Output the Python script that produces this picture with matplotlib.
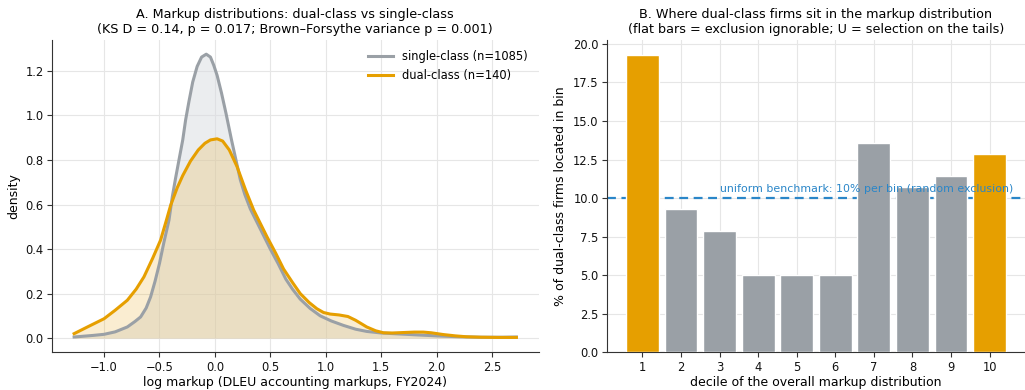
import numpy as np
import matplotlib
matplotlib.use("Agg")
import matplotlib.pyplot as plt

# panel A: density curves
x_single = [-1.27, -1.1, -1.0, -0.9, -0.79, -0.72, -0.67, -0.62, -0.58, -0.54, -0.5, -0.46, -0.414, -0.384,
            -0.354, -0.324, -0.29, -0.264, -0.235, -0.2, -0.16, -0.12, -0.078, -0.04, -0.01, 0.02, 0.06, 0.1,
            0.15, 0.19, 0.23, 0.27, 0.32, 0.38, 0.44, 0.5, 0.57, 0.64, 0.7, 0.77, 0.86, 0.95, 1.05, 1.16,
            1.27, 1.37, 1.5, 1.61, 1.8, 2.0, 2.2, 2.4, 2.6, 2.72]
d_single = [0.005, 0.012, 0.017, 0.028, 0.05, 0.075, 0.095, 0.135, 0.185, 0.255, 0.335, 0.43, 0.53, 0.635,
            0.72, 0.8, 0.89, 0.98, 1.06, 1.15, 1.22, 1.262, 1.275, 1.262, 1.225, 1.18, 1.1, 1.01,
            0.89, 0.8, 0.71, 0.645, 0.58, 0.52, 0.46, 0.4, 0.335, 0.265, 0.22, 0.175, 0.133, 0.1, 0.077, 0.057,
            0.04, 0.03, 0.023, 0.02, 0.015, 0.01, 0.006, 0.004, 0.004, 0.005]

x_dual = [-1.27, -1.15, -1.0, -0.9, -0.79, -0.71, -0.64, -0.56, -0.49, -0.44, -0.4, -0.34, -0.29, -0.22,
          -0.15, -0.09, -0.04, 0.02, 0.07, 0.13, 0.2, 0.277, 0.35, 0.41, 0.47, 0.55, 0.62, 0.7, 0.77, 0.85,
          0.92, 0.98, 1.04, 1.12, 1.2, 1.27, 1.32, 1.37, 1.45, 1.52, 1.6, 1.7, 1.8, 1.88, 1.95, 2.06,
          2.17, 2.27, 2.4, 2.55, 2.72]
d_dual = [0.02, 0.05, 0.087, 0.125, 0.17, 0.22, 0.275, 0.36, 0.44, 0.525, 0.595, 0.675, 0.73, 0.795,
          0.845, 0.875, 0.89, 0.895, 0.885, 0.845, 0.77, 0.665, 0.575, 0.515, 0.455, 0.38, 0.31, 0.25, 0.2, 0.16,
          0.132, 0.115, 0.108, 0.104, 0.097, 0.08, 0.065, 0.05, 0.033, 0.024, 0.023, 0.025, 0.027, 0.027, 0.024, 0.016,
          0.01, 0.006, 0.004, 0.003, 0.003]

# panel B: % of dual-class firms per decile
deciles = [1, 2, 3, 4, 5, 6, 7, 8, 9, 10]
pct_dual = [19.29, 9.29, 7.86, 5.0, 5.0, 5.0, 13.57, 10.71, 11.43, 12.86]
tails = [1, 10]

GRAY = '#9aa0a6'
ORANGE = '#e69f00'
BLUE = '#2a86c8'

plt.rcParams['font.family'] = 'DejaVu Sans'
plt.rcParams['axes.edgecolor'] = '#333333'
plt.rcParams['xtick.color'] = '#333333'
plt.rcParams['ytick.color'] = '#333333'
plt.rcParams['xtick.labelcolor'] = '#111111'
plt.rcParams['ytick.labelcolor'] = '#111111'

fig = plt.figure(figsize=(10.25, 3.9), dpi=100)
ax1 = fig.add_axes([52/1025, 1-352.3/390, (538.5-52)/1025, (352.3-40)/390])
ax2 = fig.add_axes([607/1025, 1-352.3/390, (1025-607)/1025, (352.3-40)/390])

ax1.fill_between(x_single, d_single, color='#d9dce1', alpha=0.5, lw=0)
ax1.fill_between(x_dual, d_dual, color=ORANGE, alpha=0.18, lw=0)
ax1.plot(x_single, d_single, color=GRAY, lw=2.2, solid_joinstyle='round', label='single-class (n=1085)')
ax1.plot(x_dual, d_dual, color=ORANGE, lw=2.2, solid_joinstyle='round', label='dual-class (n=140)')
ax1.set_xticks([-1.0, -0.5, 0.0, 0.5, 1.0, 1.5, 2.0, 2.5])
ax1.set_yticks([0.0, 0.2, 0.4, 0.6, 0.8, 1.0, 1.2])
ax1.set_xlabel('log markup (DLEU accounting markups, FY2024)', fontsize=9, labelpad=1.5)
ax1.set_ylabel('density', fontsize=9)
ax1.set_title('A. Markup distributions: dual-class vs single-class\n'
              '(KS D = 0.14, p = 0.017; Brown\u2013Forsythe variance p = 0.001)', fontsize=9.2, pad=5)
ax1.legend(loc='upper right', frameon=False, fontsize=8.3, handlelength=2.2)

colors = [ORANGE if d in tails else GRAY for d in deciles]
ax2.bar(deciles, pct_dual, width=0.85, color=colors, edgecolor='white', linewidth=1, zorder=3)
ax2.axhline(10, color=BLUE, ls='--', lw=1.6, dashes=(4, 2.5), zorder=2)
ax2.text(10.62, 10.25, 'uniform benchmark: 10% per bin (random exclusion)', color=BLUE,
         fontsize=7.9, ha='right', va='bottom', zorder=4)
ax2.set_xticks(deciles)
ax2.set_yticks(np.arange(0, 20.1, 2.5))
ax2.set_xlabel('decile of the overall markup distribution', fontsize=9, labelpad=1.5)
ax2.set_ylabel('% of dual-class firms located in bin', fontsize=9)
ax2.set_title('B. Where dual-class firms sit in the markup distribution\n'
              '(flat bars = exclusion ignorable; U = selection on the tails)', fontsize=9.2, pad=5)

for ax in (ax1, ax2):
    ax.grid(True, color='#e6e6e6', lw=0.8)
    ax.set_axisbelow(True)
    ax.spines['top'].set_visible(False)
    ax.spines['right'].set_visible(False)
    ax.tick_params(labelsize=8.3, pad=2.5)

fig.savefig('out.png', dpi=100)
